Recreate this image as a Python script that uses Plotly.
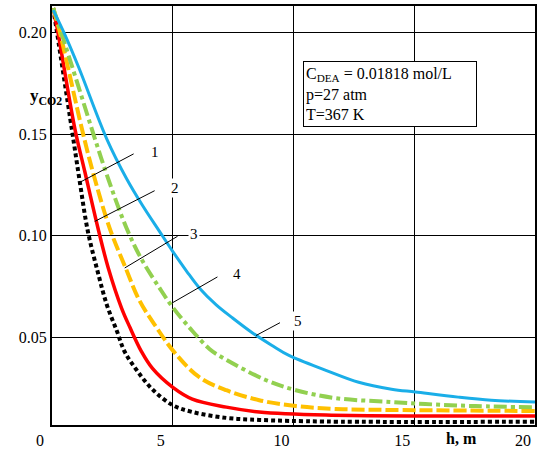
import plotly.graph_objects as go

# ---- data ----
h1 = [0.05, 0.21, 0.82, 1.15, 1.48, 1.90, 2.27, 2.68, 3.01, 3.51, 4.16, 4.99, 5.81, 7.22, 8.58, 11.34, 20.0]
y1 = [0.212, 0.1998, 0.1525, 0.1266, 0.1025, 0.0820, 0.0661, 0.0534, 0.0430, 0.0339, 0.0245, 0.0168, 0.0134, 0.0105, 0.0095, 0.0087, 0.0086]

h2 = [0.05, 0.25, 0.95, 1.36, 1.92, 2.33, 2.88, 3.23, 3.70, 4.16, 4.99, 5.81, 7.22, 8.58, 11.34, 20.0]
y2 = [0.212, 0.1998, 0.1525, 0.1315, 0.1030, 0.0842, 0.0645, 0.0549, 0.0432, 0.0348, 0.0256, 0.0197, 0.0158, 0.0134, 0.0119, 0.0114]

h3 = [0.05, 0.33, 1.24, 1.69, 2.39, 3.05, 3.63, 4.33, 5.07, 6.10, 7.22, 8.58, 10.10, 11.75, 14.06, 20.0]
y3 = [0.212, 0.1998, 0.1525, 0.1315, 0.1037, 0.0842, 0.0680, 0.0549, 0.0427, 0.0305, 0.0241, 0.0192, 0.0163, 0.0149, 0.0144, 0.0139]

h4 = [0.05, 0.38, 1.00, 1.78, 2.27, 3.09, 3.75, 4.45, 4.99, 5.69, 6.52, 7.05, 8.87, 10.10, 11.75, 14.06, 15.46, 17.53, 20.0]
y4 = [0.212, 0.2000, 0.1770, 0.1476, 0.1300, 0.1037, 0.0876, 0.0744, 0.0650, 0.0549, 0.0444, 0.0402, 0.0290, 0.0241, 0.0202, 0.0183, 0.0173, 0.0163, 0.0157]

h5 = [0.05, 0.50, 1.10, 2.27, 3.09, 3.75, 4.45, 4.99, 5.57, 6.10, 6.80, 7.46, 8.29, 9.11, 9.81, 11.34, 12.70, 14.06, 15.05, 16.82, 18.19, 20.0]
y5 = [0.211, 0.1998, 0.1830, 0.1476, 0.1281, 0.1149, 0.1022, 0.0925, 0.0827, 0.0744, 0.0661, 0.0598, 0.0524, 0.0461, 0.0412, 0.0339, 0.0280, 0.0246, 0.0232, 0.0207, 0.0192, 0.0183]

curve_names = ["1", "2", "3", "4", "5"]
x_ticks = [0, 5, 10, 15, 20]
x_tick_text = ["0", "5", "10", "15", "20"]
y_ticks = [0.05, 0.10, 0.15, 0.20]
y_tick_text = ["0.05", "0.10", "0.15", "0.20"]

# label positions and leader lines (data coordinates)
label_x = [4.25, 5.11, 5.90, 7.67, 10.19]
label_y = [0.1413, 0.1237, 0.1008, 0.0812, 0.0583]
leader_x0 = [3.38, 4.25, 5.20, 6.85, 9.44]
leader_y0 = [0.1403, 0.1222, 0.0998, 0.0798, 0.0573]
leader_x1 = [1.20, 1.77, 3.01, 4.99, 8.45]
leader_y1 = [0.1266, 0.1071, 0.0842, 0.0671, 0.0510]

FONT = "Liberation Serif"

styles = [
    dict(color="#000000", width=4, dash="4px,3px"),
    dict(color="#FF0000", width=3.5, dash="solid"),
    dict(color="#FFC000", width=4, dash="13px,4px"),
    dict(color="#92D050", width=4, dash="13px,4px,4px,4px"),
    dict(color="#1AAEE8", width=3, dash="solid"),
]

fig = go.Figure()
for hx, yy, nm, st in zip([h1, h2, h3, h4, h5], [y1, y2, y3, y4, y5], curve_names, styles):
    fig.add_trace(go.Scatter(x=hx, y=yy, mode="lines", name=nm,
                             line=dict(shape="spline", smoothing=1.0, **st)))

# leader lines
for a, b, c, d in zip(leader_x0, leader_y0, leader_x1, leader_y1):
    fig.add_shape(type="line", xref="x", yref="y", x0=a, y0=b, x1=c, y1=d,
                  line=dict(color="black", width=1))

# curve numbers
for lx, ly, nm in zip(label_x, label_y, curve_names):
    fig.add_annotation(x=lx, y=ly, xref="x", yref="y", text=nm, showarrow=False,
                       font=dict(family=FONT, size=15, color="black"), bgcolor="white", borderpad=1)

# conditions box
fig.add_annotation(x=10.39, y=0.1862, xref="x", yref="y", xanchor="left", yanchor="top",
                   text="C<sub>DEA</sub> = 0.01818 mol/L<br>p=27 atm<br>T=367 K",
                   align="left", showarrow=False, width=168, height=60, borderpad=2,
                   bordercolor="black", borderwidth=1, bgcolor="white",
                   font=dict(family=FONT, size=16, color="black"))

# axis titles
fig.add_annotation(x=-0.049, y=0.815, xref="paper", yref="paper", text="<b>y<sub>CO2</sub></b>",
                   showarrow=False, font=dict(family=FONT, size=17, color="black"))
fig.add_annotation(x=16.95, y=0, xref="x", yref="paper", yanchor="top", yshift=-3,
                   text="<b>h, m</b>", showarrow=False, font=dict(family=FONT, size=16, color="black"))

axis_common = dict(showgrid=True, gridcolor="black", gridwidth=1, zeroline=False,
                   showline=True, linecolor="black", linewidth=2, mirror=True, ticks="",
                   tickfont=dict(family=FONT, size=16, color="black"))

fig.update_layout(
    width=541, height=453,
    margin=dict(l=52, r=4, t=6, b=25),
    paper_bgcolor="white", plot_bgcolor="white",
    font=dict(family=FONT, size=16, color="black"),
    showlegend=False,
    xaxis=dict(range=[0, 20], tickvals=x_ticks, ticktext=x_tick_text, ticklabelshift=-12, **axis_common),
    yaxis=dict(range=[0.007, 0.213], tickvals=y_ticks, ticktext=y_tick_text, **axis_common),
)

fig.write_html("out.html")
